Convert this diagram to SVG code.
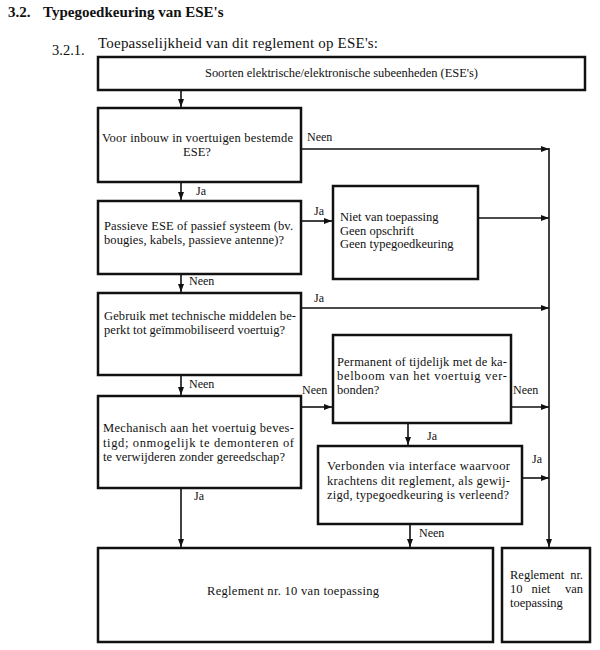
<svg xmlns="http://www.w3.org/2000/svg" width="600" height="650" viewBox="0 0 600 650">
<style>
text{font-family:"Liberation Serif","Times New Roman",serif;fill:#111;}
.h{font-size:15px;font-weight:bold;}
.t{font-size:12.5px;}
.l{font-size:12px;}
.box{fill:#fff;stroke:#111;stroke-width:2.5;}
.c{fill:none;stroke:#111;stroke-width:1.6;}
.a{marker-end:url(#ah);}
</style>
<defs>
<marker id="ah" markerUnits="userSpaceOnUse" markerWidth="8" markerHeight="8" viewBox="0 0 8 8" refX="8" refY="4" orient="auto">
<path d="M0,1 L8,4 L0,7 z" fill="#111"/>
</marker>
</defs>
<rect width="600" height="650" fill="#fff"/>
<g id="heading">
<text class="h" x="8" y="17">3.2.</text>
<text class="h" x="43" y="17">Typegoedkeuring van ESE's</text>
<text x="52" y="55" style="font-size:14.5px">3.2.1.</text>
<text x="98" y="48" style="font-size:15px" textLength="280" lengthAdjust="spacing">Toepasselijkheid van dit reglement op ESE's:</text>
</g>
<g id="connectors">
<line class="c a" x1="181" y1="90" x2="181" y2="107"/>
<line class="c a" x1="181" y1="182" x2="181" y2="200"/>
<line class="c a" x1="181" y1="274" x2="181" y2="292"/>
<line class="c a" x1="181" y1="375" x2="181" y2="395"/>
<line class="c a" x1="181" y1="488" x2="181" y2="547"/>
<line class="c a" x1="301" y1="149" x2="549" y2="149"/>
<line class="c a" x1="301" y1="221" x2="332" y2="221"/>
<line class="c a" x1="478" y1="218" x2="549" y2="218"/>
<line class="c a" x1="301" y1="308" x2="549" y2="308"/>
<line class="c a" x1="301" y1="407" x2="332" y2="407"/>
<line class="c a" x1="511" y1="407" x2="549" y2="407"/>
<line class="c a" x1="408" y1="423" x2="408" y2="445"/>
<line class="c a" x1="522" y1="478" x2="549" y2="478"/>
<line class="c a" x1="410" y1="524" x2="410" y2="547"/>
<line class="c a" x1="549" y1="148" x2="549" y2="547"/>
<text class="l" x="307" y="141">Neen</text>
<text class="l" x="196" y="195">Ja</text>
<text class="l" x="314" y="215">Ja</text>
<text class="l" x="189" y="285">Neen</text>
<text class="l" x="314" y="302">Ja</text>
<text class="l" x="189" y="388">Neen</text>
<text class="l" x="302" y="394">Neen</text>
<text class="l" x="513" y="394">Neen</text>
<text class="l" x="427" y="440">Ja</text>
<text class="l" x="532" y="463">Ja</text>
<text class="l" x="194" y="500">Ja</text>
<text class="l" x="419" y="537">Neen</text>
</g>
<g id="n-soorten">
<rect class="box" x="98" y="57" width="487" height="33"/>
<text class="t" x="341.5" y="77" text-anchor="middle" textLength="273" lengthAdjust="spacing">Soorten elektrische/elektronische subeenheden (ESE's)</text>
</g>
<g id="n-inbouw">
<rect class="box" x="98" y="108" width="203" height="74"/>
<text class="t" x="102" y="142" textLength="191" lengthAdjust="spacing">Voor inbouw in voertuigen bestemde</text>
<text class="t" x="197" y="156" text-anchor="middle">ESE?</text>
</g>
<g id="n-passief">
<rect class="box" x="98" y="201" width="203" height="73"/>
<text class="t" x="104" y="230" textLength="189" lengthAdjust="spacing">Passieve ESE of passief systeem (bv.</text>
<text class="t" x="104" y="244" textLength="180" lengthAdjust="spacing">bougies, kabels, passieve antenne)?</text>
</g>
<g id="n-niet">
<rect class="box" x="333" y="186" width="145" height="93"/>
<text class="t" x="340" y="221">Niet van toepassing</text>
<text class="t" x="340" y="234.5">Geen opschrift</text>
<text class="t" x="340" y="248">Geen typegoedkeuring</text>
</g>
<g id="n-gebruik">
<rect class="box" x="98" y="293" width="203" height="82"/>
<text class="t" x="104" y="320" textLength="192" lengthAdjust="spacing">Gebruik met technische middelen be-</text>
<text class="t" x="104" y="334" textLength="181" lengthAdjust="spacing">perkt tot geïmmobiliseerd voertuig?</text>
</g>
<g id="n-permanent">
<rect class="box" x="333" y="335" width="178" height="88"/>
<text class="t" x="337" y="366" textLength="170" lengthAdjust="spacing">Permanent of tijdelijk met de ka-</text>
<text class="t" x="337" y="380" textLength="170" lengthAdjust="spacing">belboom van het voertuig ver-</text>
<text class="t" x="337" y="394">bonden?</text>
</g>
<g id="n-mechanisch">
<rect class="box" x="98" y="396" width="203" height="92"/>
<text class="t" x="103" y="432" textLength="191" lengthAdjust="spacing">Mechanisch aan het voertuig beves-</text>
<text class="t" x="103" y="446.5" textLength="191" lengthAdjust="spacing">tigd; onmogelijk te demonteren of</text>
<text class="t" x="103" y="461" textLength="182" lengthAdjust="spacing">te verwijderen zonder gereedschap?</text>
</g>
<g id="n-verbonden">
<rect class="box" x="318" y="446" width="204" height="78"/>
<text class="t" x="327" y="470" textLength="183" lengthAdjust="spacing">Verbonden via interface waarvoor</text>
<text class="t" x="327" y="484.5" textLength="183" lengthAdjust="spacing">krachtens dit reglement, als gewij-</text>
<text class="t" x="327" y="499" textLength="182" lengthAdjust="spacing">zigd, typegoedkeuring is verleend?</text>
</g>
<g id="n-van-toepassing">
<rect class="box" x="98" y="548" width="395" height="94"/>
<text class="t" x="293" y="595" text-anchor="middle" textLength="172" lengthAdjust="spacing">Reglement nr. 10 van toepassing</text>
</g>
<g id="n-niet-van-toepassing">
<rect class="box" x="502" y="548" width="88" height="94"/>
<text class="t" y="579"><tspan x="510">Reglement</tspan> <tspan x="583" text-anchor="end">nr.</tspan></text>
<text class="t" y="593"><tspan x="510">10</tspan> <tspan x="542.5" text-anchor="middle">niet</tspan> <tspan x="583" text-anchor="end">van</tspan></text>
<text class="t" x="510" y="607">toepassing</text>
</g>
</svg>
